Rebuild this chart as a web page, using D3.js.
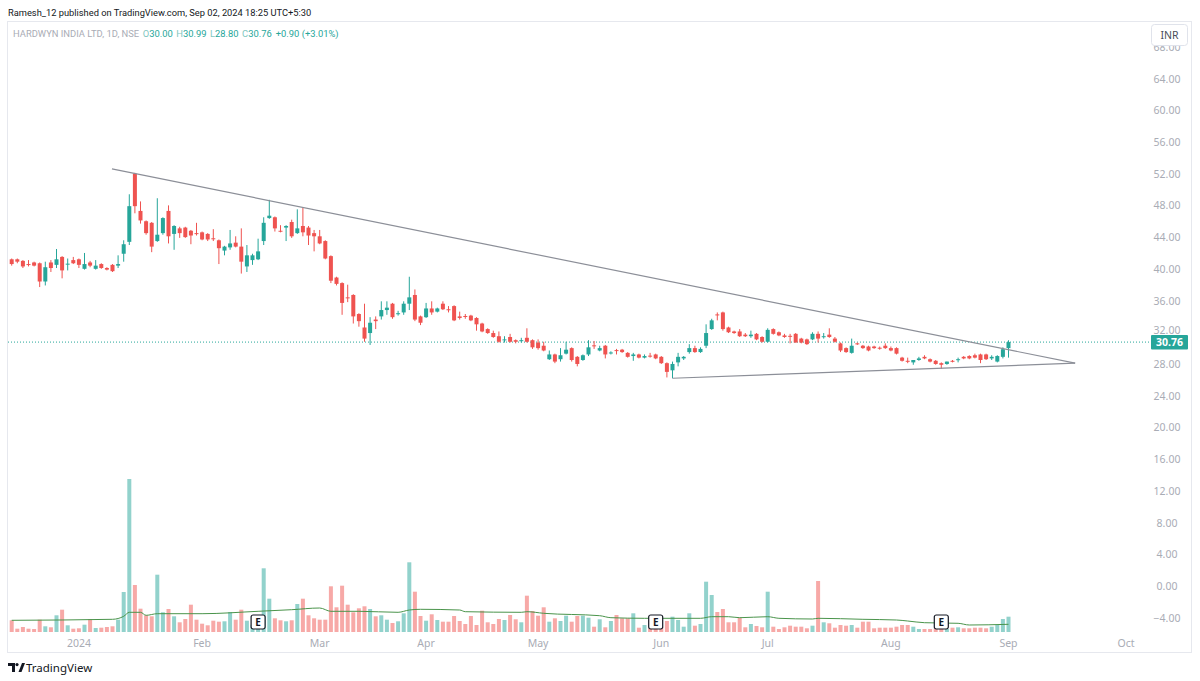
<!DOCTYPE html>
<html>
<head>
<meta charset="utf-8">
<script src="https://cdn.jsdelivr.net/npm/d3@7"></script>
<style>
  body { margin: 0; background: #fff; }
  svg { display: block; font-family: "Noto Sans", sans-serif; }
</style>
</head>
<body>
<svg id="chart" width="1200" height="681"></svg>
<script>
// daily bars, Dec 2023 .. 02 Sep 2024 (HARDWYN, NSE)
let opens = [41.2,41.2,41.0,40.6,40.8,40.7,38.4,40.8,40.5,41.5,40.6,41.1,41.2,40.0,40.8,40.0,40.6,40.1,40.5,40.4,
  41.9,43.4,52.0,47.3,46.0,45.8,43.5,44.5,47.3,44.4,45.1,45.2,44.8,44.5,44.6,44.4,43.85,43.6,42.3,42.7,
  43.3,42.8,40.3,41.1,41.2,43.5,46.4,46.5,44.8,45.2,45.9,44.5,45.4,45.2,44.5,44.1,43.5,41.6,38.9,38.2,
  36.4,36.7,34.3,32.6,31.9,33.6,34.0,34.8,35.6,34.3,34.5,35.6,36.7,34.0,33.9,35.0,34.6,35.6,34.9,35.3,
  34.0,34.05,34.1,33.8,33.1,32.4,31.9,31.5,31.05,31.4,31.0,30.9,31.3,31.0,30.7,30.3,28.6,29.2,28.6,29.3,
  30.0,28.9,28.5,29.2,30.35,29.7,30.3,29.35,29.75,29.8,29.4,29.0,29.2,28.8,29.05,29.2,28.9,28.1,27.2,28.2,
  28.7,29.5,30.0,29.5,30.3,32.4,34.25,34.5,32.6,32.1,32.1,31.7,31.5,31.8,31.4,30.8,32.4,32.0,31.6,31.55,
  31.8,31.2,31.1,31.1,31.8,31.4,31.7,31.2,30.6,30.0,29.4,30.6,30.3,30.2,30.2,30.05,30.3,30.0,30.0,28.8,
  28.4,28.2,28.5,28.9,28.6,28.4,28.1,28.0,28.4,28.5,28.9,29.0,29.1,29.2,29.2,28.7,28.3,28.9,30.00];
let highs = [41.3,41.3,41.1,41.1,40.9,40.8,40.9,41.1,42.5,41.6,41.3,41.5,41.3,42.0,41.0,41.1,40.7,40.2,40.6,41.7,
  43.6,49.4,52.1,48.5,46.1,45.9,48.9,46.5,48.0,45.5,45.3,45.3,44.9,45.8,44.7,44.5,45.0,43.7,42.9,44.9,
  44.1,45.1,43.0,41.9,43.8,46.5,48.7,46.6,45.5,45.5,46.2,47.5,47.7,45.4,44.9,44.9,43.6,41.7,39.0,38.3,
  38.0,36.8,34.4,35.6,33.9,34.0,35.9,35.9,35.7,34.7,35.9,39.0,37.4,34.1,35.7,35.9,35.1,35.9,35.3,35.4,
  34.6,34.3,34.2,33.9,33.2,32.5,32.2,32.1,31.5,31.8,31.1,31.3,32.5,31.1,31.1,30.8,29.7,29.3,30.0,30.8,
  30.1,29.0,29.2,31.0,30.9,30.3,30.4,29.6,29.9,29.9,29.5,29.4,29.3,29.2,29.4,29.3,29.0,28.2,28.3,29.4,
  29.0,30.5,30.3,30.1,33.0,33.7,34.5,34.6,32.7,32.2,32.4,31.9,32.2,31.9,31.5,32.5,32.5,32.1,31.8,31.8,
  31.9,31.3,31.2,32.0,32.1,31.9,32.5,31.4,30.7,30.1,31.2,30.7,30.4,30.3,30.3,30.2,30.6,30.2,30.1,28.9,
  28.8,28.5,28.9,29.1,28.7,28.5,28.2,28.3,28.5,28.8,29.0,29.1,29.3,29.3,29.3,29.1,29.1,30.1,30.99];
let lows = [40.4,40.7,40.1,40.3,40.3,37.7,37.9,39.6,40.1,38.8,39.8,40.6,40.1,39.9,40.2,39.9,40.0,39.8,39.6,40.1,
  40.9,43.0,47.0,45.7,44.3,42.1,43.4,44.3,43.2,42.4,43.9,43.9,43.1,44.2,43.6,43.5,43.5,40.6,41.7,42.4,
  42.7,39.4,39.6,40.5,41.1,43.0,46.3,44.7,44.6,43.5,43.9,44.4,44.1,43.0,42.2,43.1,41.2,38.2,37.9,34.2,
  35.8,33.1,32.7,30.8,30.4,32.4,33.6,34.2,33.7,34.1,34.2,34.8,33.4,32.9,33.8,34.2,34.5,34.8,34.5,33.4,
  33.6,33.7,33.4,32.2,32.0,31.8,31.3,30.7,30.7,30.7,30.6,30.7,30.7,29.9,29.8,29.6,28.5,28.1,28.3,29.2,
  28.3,27.7,28.4,29.0,29.9,29.6,28.7,29.2,29.2,29.4,28.8,28.4,28.7,28.7,28.8,28.6,28.0,26.3,26.2,27.7,
  28.5,29.3,29.4,29.4,30.0,32.3,33.5,32.2,31.9,31.8,31.4,31.4,31.3,31.0,30.7,30.7,31.7,31.5,31.3,30.6,
  30.7,30.6,30.4,31.0,30.7,31.2,31.3,30.7,29.5,29.4,29.3,30.4,29.9,29.6,29.9,29.8,29.9,29.6,29.2,28.3,
  28.1,27.9,28.4,28.6,28.2,27.9,27.4,27.9,28.2,28.2,28.6,28.6,28.7,28.1,28.5,28.5,28.2,28.7,28.80];
let closes = [40.6,40.9,40.3,40.55,40.4,38.4,40.2,40.1,41.2,39.8,40.65,40.7,40.5,40.6,40.4,40.4,40.1,39.9,39.7,40.6,
  43.1,47.9,47.9,46.1,44.5,42.8,44.3,46.4,44.1,45.4,44.5,44.0,44.2,44.4,43.7,43.7,43.75,42.6,42.8,43.2,
  42.8,40.9,41.7,41.7,42.2,45.8,46.7,45.1,44.75,45.4,44.1,45.1,44.6,44.2,44.1,43.2,41.3,38.5,38.1,35.7,
  36.3,34.0,33.4,31.2,33.2,33.4,34.8,35.1,33.9,34.4,35.6,36.4,33.6,33.2,35.0,34.5,35.0,34.9,34.8,33.5,
  33.8,34.0,33.5,33.0,32.1,31.9,31.4,30.8,31.1,30.8,30.8,31.0,30.8,30.1,30.0,29.7,29.2,28.3,29.1,29.8,
  28.5,28.0,29.1,30.1,30.3,30.0,29.2,29.45,29.7,29.5,28.9,29.2,28.8,29.0,29.0,28.7,28.1,27.0,28.0,28.9,
  28.9,30.0,29.5,29.9,31.9,33.5,34.15,32.4,32.0,31.9,31.5,31.5,31.7,31.1,30.8,32.3,31.8,31.6,31.4,31.5,
  30.7,30.7,30.5,31.8,31.2,31.5,31.4,30.8,29.7,29.5,30.3,30.5,30.0,29.7,30.0,30.0,30.0,29.7,29.3,28.4,
  28.3,28.5,28.7,28.7,28.3,28.0,27.9,28.3,28.3,28.6,28.7,28.7,28.8,28.5,28.6,28.9,29.0,29.86,30.76];
// volume, relative units (peak bar = 153)
let volumes = [11.7,3.3,5,3.3,3,12.3,5.7,4.7,16.7,22.3,6.7,3.3,3.7,7.3,13,4,4.3,5,5.7,12.3,
  40,153,47,23.3,16.7,15.7,57.3,19.7,23,15.7,9.7,13,27.3,12.3,8.3,6.7,11.3,10.3,10.7,20,
  12.3,22.3,11.3,7.3,5.7,63.7,33.3,13.7,11.7,10.7,11.7,28,33.3,16.7,13.7,12.3,12.3,45.7,24.7,46.3,
  27.3,19.7,23.7,25.7,23,15.7,16.7,12.3,9,10.7,18.7,69.7,40.3,16,11.3,17.7,12,10.3,10.3,16,
  11,8,16,7,21.3,9.7,8,13,12,17,12.7,9.7,36.3,21,16.3,24.7,10.3,13.7,11,16.3,
  10.3,16,16.3,14.3,5.3,12.7,4.7,11,17,13.7,13.7,18.7,4.3,7,3.7,3.7,4.7,11,15.3,12,
  5.3,18.7,6.3,8,50.3,37,20,23,9.7,9.7,14.3,4.7,8,6,4.7,40.3,5.3,3,4.7,6.3,
  5.3,5.3,3.7,6.3,51,9.7,8.7,4.3,7,6.3,7,4.3,10.3,10.3,3.7,4.3,4.3,4.3,5.3,7,
  7,5.3,3,3,3,3.7,3.7,3,4.3,4.7,3.7,3.7,4.3,4.3,3.7,5.3,7,13,15.3];
// volume moving average, read at these bars
let maIdx = [0,18,20,21,23,24,26,34,44,50,55,57,62,69,71,73,80,81,91,92,95,105,107,113,123,125,128,130,135,137,143,144,152,158,160,163,169,171,178];
let maVal = [11.7,12.7,15.7,19.7,19.7,16.7,18.3,18.3,20.7,22.3,24,20.7,20.7,19.7,22,22.7,22,20.3,19.7,20.3,18.7,16.3,14.3,13.7,13.7,15.3,15.3,14.3,15.3,13.7,13,13.7,12.7,12,11,9.3,8.7,7,7.7];

let monthLabels = ["2024","Feb","Mar","Apr","May","Jun","Jul","Aug","Sep","Oct"];
let monthIdx = [12,34,55,74,94,116,135,157,178,199];
let priceTicks = [-4,0,4,8,12,16,20,24,28,32,36,40,44,48,52,56,60,64,68];
let earningsIdx = [44,115,166];
// drawn trend lines: [bar, price]
let upperLine = [[17.9,52.6],[189.9,28.1]];
let lowerLine = [[118,26.2],[189.9,28.1]];
let lastPrice = 30.76;

const UP = "#26a69a", DOWN = "#ef5350";
const svg = d3.select("#chart");

const x = d3.scaleLinear().domain([0, 178]).range([11.7, 1008.5]);
const y = d3.scaleLinear().domain([0, 64]).range([586, 78.5]);
const yv = d3.scaleLinear().domain([0, 153]).range([632, 479]);

// frame
svg.append("rect").attr("x", 7.5).attr("y", 21.5).attr("width", 1184).attr("height", 631)
  .attr("fill", "none").attr("stroke", "#e6e8ee");

svg.append("text").attr("x", 8).attr("y", 16).attr("font-family", "Roboto").attr("font-size", 9.3)
  .attr("fill", "#131722")
  .text("Ramesh_12 published on TradingView.com, Sep 02, 2024 18:25 UTC+5:30");

const plot = svg.append("g");

// volume
const bars = d3.range(volumes.length);
plot.selectAll("rect.vol").data(bars).join("rect").attr("class", "vol")
  .attr("x", i => x(i) - 2).attr("width", 4)
  .attr("y", i => yv(volumes[i])).attr("height", i => yv(0) - yv(volumes[i]))
  .attr("fill", i => closes[i] >= opens[i] ? "rgba(38,166,154,0.5)" : "rgba(239,83,80,0.5)");

plot.append("path")
  .attr("d", d3.line().curve(d3.curveMonotoneX).x(d => x(d)).y((d, k) => yv(maVal[k]))(maIdx))
  .attr("fill", "none").attr("stroke", "#4a944b").attr("stroke-width", 1);

// earnings markers
const em = plot.selectAll("g.earn").data(earningsIdx).join("g").attr("class", "earn")
  .attr("transform", d => `translate(${x(d)},622)`);
em.append("rect").attr("x", -7).attr("y", -7).attr("width", 14).attr("height", 14).attr("rx", 2)
  .attr("fill", "#fff").attr("stroke", "#131722").attr("stroke-width", 1.2);
em.append("text").attr("text-anchor", "middle").attr("y", 4).attr("font-size", 10).attr("font-weight", "bold")
  .attr("fill", "#131722").text("E");

// last price dotted line
plot.append("line").attr("x1", 8).attr("x2", 1150).attr("y1", y(lastPrice)).attr("y2", y(lastPrice))
  .attr("stroke", UP).attr("stroke-width", 1).attr("stroke-dasharray", "1,2");

// candles
const cg = plot.selectAll("g.candle").data(bars).join("g").attr("class", "candle");
cg.append("line")
  .attr("x1", i => x(i)).attr("x2", i => x(i))
  .attr("y1", i => y(highs[i])).attr("y2", i => y(lows[i]))
  .attr("stroke", i => closes[i] >= opens[i] ? UP : DOWN).attr("stroke-width", 1);
cg.append("rect")
  .attr("x", i => x(i) - 2).attr("width", 4)
  .attr("y", i => y(Math.max(opens[i], closes[i])))
  .attr("height", i => Math.max(1, Math.abs(y(opens[i]) - y(closes[i]))))
  .attr("fill", i => closes[i] >= opens[i] ? UP : DOWN);

// trend lines
[upperLine, lowerLine].forEach(l => {
  plot.append("line")
    .attr("x1", x(l[0][0])).attr("y1", y(l[0][1]))
    .attr("x2", x(l[1][0])).attr("y2", y(l[1][1]))
    .attr("stroke", "#8c8f98").attr("stroke-width", 1.2);
});

// price axis (the 32.00 label sits just above the last-price tag)
svg.append("g").selectAll("text").data(priceTicks).join("text")
  .attr("x", 1167).attr("y", d => y(d) + (d === 32 ? 2 : 4)).attr("text-anchor", "middle")
  .attr("font-size", 10.5).attr("fill", "#a9acb5")
  .text(d => (d < 0 ? "\u2212" + Math.abs(d).toFixed(2) : d.toFixed(2)));

// INR button, covering the top of the 68.00 label
svg.append("rect").attr("x", 1151.5).attr("y", 24.5).attr("width", 36).attr("height", 21).attr("rx", 3)
  .attr("fill", "#fff").attr("stroke", "#e0e3eb");
svg.append("text").attr("x", 1169.5).attr("y", 38.5).attr("text-anchor", "middle")
  .attr("font-size", 10.5).attr("fill", "#4a4e59").text("INR");

// last price label
svg.append("rect").attr("x", 1151).attr("y", y(lastPrice) - 7).attr("width", 37).attr("height", 14.5)
  .attr("rx", 1).attr("fill", UP);
svg.append("text").attr("x", 1169.5).attr("y", y(lastPrice) + 4).attr("text-anchor", "middle")
  .attr("font-size", 10.5).attr("font-weight", "bold").attr("fill", "#fff").text(lastPrice.toFixed(2));

// time axis
svg.append("g").selectAll("text").data(monthIdx).join("text")
  .attr("x", d => x(d)).attr("y", 647).attr("text-anchor", "middle")
  .attr("font-size", 10.5).attr("fill", "#a9acb5")
  .text((d, k) => monthLabels[k]);

// legend
const lg = svg.append("text").attr("x", 13).attr("y", 36.5).attr("font-family", "Roboto").attr("font-size", 9.4);
lg.append("tspan").attr("fill", "#a9acb5").text("HARDWYN INDIA LTD, 1D, NSE");
const ohlc = [["O", opens[178]], ["H", highs[178]], ["L", lows[178]], ["C", closes[178]]];
ohlc.forEach(p => {
  lg.append("tspan").attr("dx", 3.5).attr("fill", "#7fc7bf").text(p[0]);
  lg.append("tspan").attr("fill", UP).text(p[1].toFixed(2));
});
lg.append("tspan").attr("dx", 4).attr("fill", UP).text("+0.90 (+3.01%)");

// TradingView mark
const logo = svg.append("g").attr("transform", "translate(8,663)").attr("fill", "#131722");
logo.append("path").attr("d", "M0 0 H7 V9 H4 V3 H0 Z");
logo.append("circle").attr("cx", 9).attr("cy", 1.6).attr("r", 1.6);
logo.append("path").attr("d", "M10.5 9 L14 0 H17 L13.5 9 Z");
svg.append("text").attr("x", 26).attr("y", 672).attr("font-size", 11.5).attr("fill", "#131722").text("TradingView");
</script>
</body>
</html>
